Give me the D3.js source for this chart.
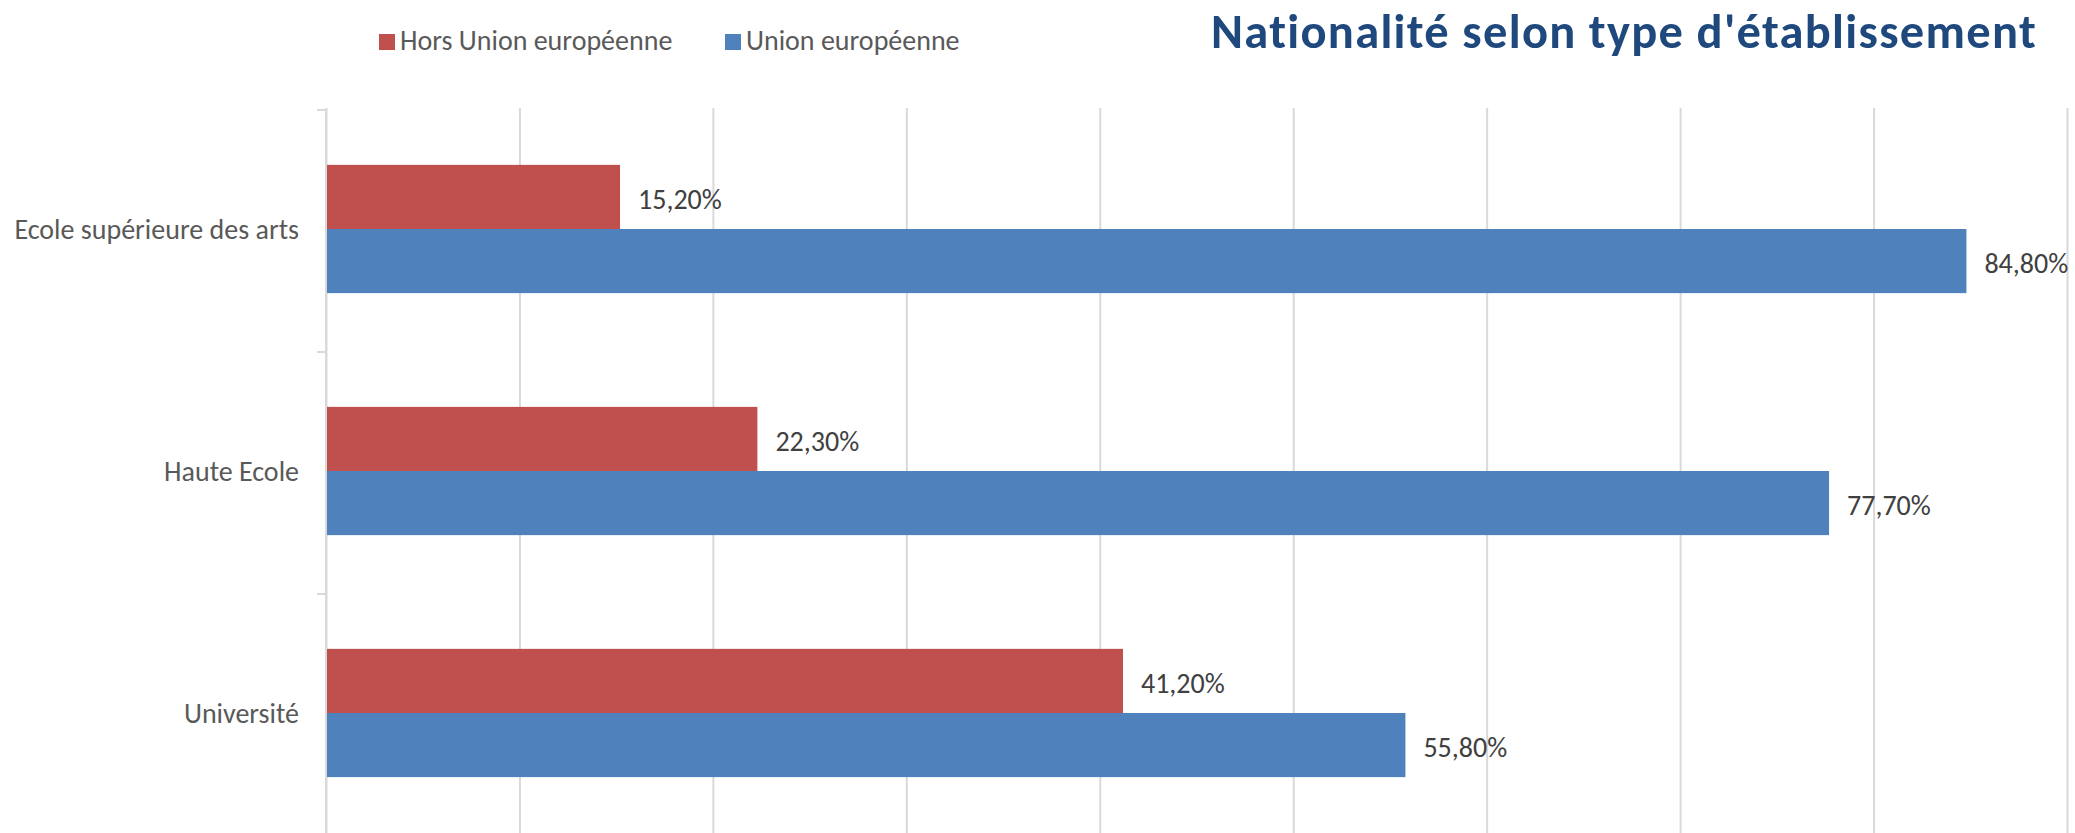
<!DOCTYPE html>
<html>
<head>
<meta charset="utf-8">
<script src="https://cdn.jsdelivr.net/npm/d3@7"></script>
<style>
  html, body { margin: 0; padding: 0; background: #ffffff; }
  svg { display: block; }
  text { font-family: Carlito, Lato, sans-serif; }
</style>
</head>
<body>
<script>
// ---- data ----
const categories = ["Ecole supérieure des arts", "Haute Ecole", "Université"];
const seriesNames = ["Hors Union européenne", "Union européenne"];
const horsUE = [0.152, 0.223, 0.412];
const unionUE = [0.848, 0.777, 0.558];
const xTicks = [0, 0.1, 0.2, 0.3, 0.4, 0.5, 0.6, 0.7, 0.8, 0.9];
const titleText = "Nationalité selon type d'établissement";
const colors = ["#c0504d", "#4f81bd"];

// ---- layout ----
const W = 2075, H = 833;
const FONT = 'Carlito, Lato, sans-serif';
const margin = { left: 326, right: 8, top: 110, bottom: -3 };
const innerW = W - margin.left - margin.right;
const innerH = H - margin.top - margin.bottom;

const svg = d3.select("body").append("svg")
  .attr("width", W).attr("height", H);

const x = d3.scaleLinear().domain([0, 0.9]).range([0, 1741]);
const y = d3.scaleBand().domain(categories).range([0, innerH]).paddingInner(0).paddingOuter(0);
const series = [horsUE, unionUE];
const barH = y.bandwidth() * 0.265;

const g = svg.append("g").attr("transform", `translate(${margin.left},${margin.top})`);

// gridlines
const gx = g.append("g")
  .call(d3.axisBottom(x).tickValues(xTicks).tickSize(innerH + 4).tickFormat(""))
  .attr("transform", "translate(0,-2)");
gx.select(".domain").remove();
gx.selectAll(".tick line").attr("stroke", "#d9d9d9").attr("stroke-width", 2);

// category boundary ticks
const bounds = categories.map(c => y(c)).concat([y(categories[categories.length - 1]) + y.bandwidth()]);
g.selectAll("line.cattick").data(bounds).enter().append("line")
  .attr("class", "cattick")
  .attr("x1", -9).attr("x2", 0)
  .attr("y1", d => d).attr("y2", d => d)
  .attr("stroke", "#d9d9d9").attr("stroke-width", 2);

// bars
const yy = (c, si) => y(c) + y.bandwidth() / 2 - barH + si * barH - 2;
series.forEach((vals, si) => {
  g.selectAll(`rect.s${si}`).data(vals).enter().append("rect")
    .attr("class", `s${si}`)
    .attr("x", x(0))
    .attr("y", (d, i) => yy(categories[i], si))
    .attr("width", d => x(d) - x(0))
    .attr("height", barH)
    .attr("fill", colors[si]);
  g.selectAll(`text.l${si}`).data(vals).enter().append("text")
    .attr("class", `l${si}`)
    .attr("x", d => x(d) + 18)
    .attr("y", (d, i) => yy(categories[i], si) + barH / 2 + 2)
    .attr("dy", "0.35em")
    .attr("font-size", 28)
    .attr("fill", "#404040")
    .text(d => d3.format(".2f")(d * 100).replace(".", ",") + "%");
});

// y axis (category labels)
const ya = g.append("g").call(d3.axisLeft(y).tickSize(0).tickPadding(27));
ya.select(".domain").remove();
ya.selectAll("text")
  .attr("font-size", 28)
  .attr("fill", "#595959")
  .attr("font-family", FONT)
  .attr("dy", "0.3em");

// axis line
g.append("line")
  .attr("x1", x(0)).attr("x2", x(0))
  .attr("y1", 0).attr("y2", innerH + 4)
  .attr("stroke", "#d9d9d9").attr("stroke-width", 2);

// legend
const legendX = [379, 725];
const leg = svg.append("g");
seriesNames.forEach((name, i) => {
  leg.append("rect").attr("x", legendX[i]).attr("y", 34).attr("width", 16).attr("height", 16).attr("fill", colors[i]);
  leg.append("text").attr("x", legendX[i] + 21).attr("y", 50)
    .attr("font-size", 28).attr("fill", "#595959").text(name);
});

// title
svg.append("text")
  .attr("x", 2037).attr("y", 48)
  .attr("text-anchor", "end")
  .attr("font-size", 48.5)
  .attr("letter-spacing", 1.3)
  .attr("font-weight", "bold")
  .attr("fill", "#1f497d")
  .text(titleText);
</script>
</body>
</html>
